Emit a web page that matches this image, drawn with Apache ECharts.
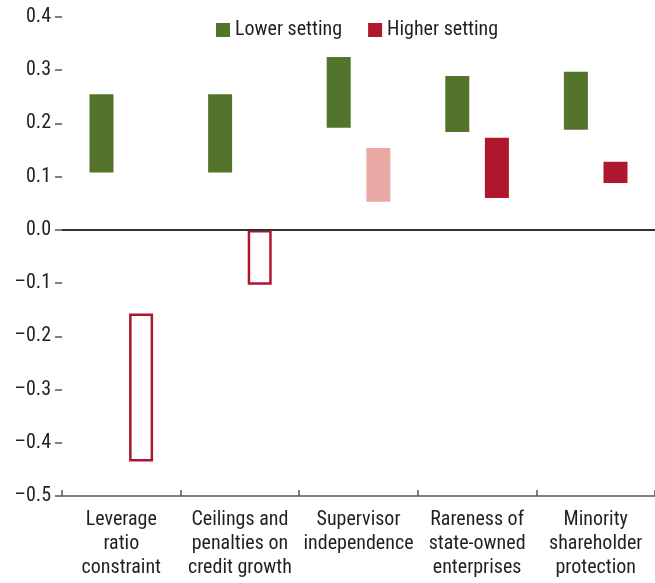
<!DOCTYPE html>
<html>
<head>
<meta charset="utf-8">
<script src="https://cdn.jsdelivr.net/npm/echarts@6/dist/echarts.min.js"></script>
<style>
html,body{margin:0;padding:0;background:#fff;}
#c{width:655px;height:583px;}
</style>
</head>
<body>
<div id="c"></div>
<script>
var categories = ["Leverage\nratio\nconstraint", "Ceilings and\npenalties on\ncredit growth", "Supervisor\nindependence", "Rareness of\nstate-owned\nenterprises", "Minority\nshareholder\nprotection"];
var lowerSettingLow  = [0.108, 0.108, 0.192, 0.184, 0.188];
var lowerSettingHigh = [0.255, 0.255, 0.325, 0.289, 0.297];
var higherSettingLow  = [-0.435, -0.103, 0.053, 0.060, 0.088];
var higherSettingHigh = [-0.157, 0.0, 0.154, 0.173, 0.128];
// style kind per higher-setting bar: solid, outline (hollow), light
var higherSettingKind = ["outline", "outline", "light", "solid", "solid"];
var yTicks = [-0.5, -0.4, -0.3, -0.2, -0.1, 0.0, 0.1, 0.2, 0.3, 0.4];

var GREEN = '#52742B', RED = '#AE172D', PINK = '#EBA9A5';
var FONT = '"Liberation Sans Narrow", "Roboto Condensed", "Arial Narrow", Roboto, sans-serif';

function baseOf(lo, hi) {
  return lo.map(function (l, i) { return hi[i] <= 0 ? hi[i] : l; });
}
function deltaOf(lo, hi) {
  return lo.map(function (l, i) { return hi[i] <= 0 ? l - hi[i] : hi[i] - l; });
}

var lowerBase = baseOf(lowerSettingLow, lowerSettingHigh);
var lowerDelta = deltaOf(lowerSettingLow, lowerSettingHigh);
var higherBase = baseOf(higherSettingLow, higherSettingHigh);
var higherDelta = deltaOf(higherSettingLow, higherSettingHigh);

var higherData = higherDelta.map(function (v, i) {
  var k = higherSettingKind[i];
  if (k === 'outline') return { value: v, itemStyle: { color: '#fff', borderColor: RED, borderWidth: 2.5 } };
  if (k === 'light') return { value: v, itemStyle: { color: PINK } };
  return { value: v, itemStyle: { color: RED } };
});

var chart = echarts.init(document.getElementById('c'), null, { renderer: 'canvas' });
chart.setOption({
  animation: false,
  backgroundColor: '#fff',
  grid: { left: 62, right: -4.5, top: 17, bottom: 87, containLabel: false },
  legend: {
    data: [
      { name: 'Lower setting', itemStyle: { color: GREEN } },
      { name: 'Higher setting', itemStyle: { color: RED } }
    ],
    top: 15, left: 211,
    itemWidth: 14, itemHeight: 14, itemGap: 26,
    icon: 'rect',
    textStyle: { fontFamily: FONT, fontSize: 20, color: '#231f20' }
  },
  xAxis: {
    type: 'category',
    data: categories,
    axisLine: { show: true, onZero: false, lineStyle: { color: '#555', width: 1.5 } },
    axisTick: { show: true, inside: true, length: 6, lineStyle: { color: '#555', width: 1.5 } },
    axisLabel: { fontFamily: FONT, fontSize: 20, color: '#231f20', lineHeight: 24, margin: 12, interval: 0 },
    splitLine: { show: false }
  },
  yAxis: {
    type: 'value',
    min: -0.5, max: 0.4, interval: 0.1,
    axisLine: { show: false },
    axisTick: { show: true, length: 7, lineStyle: { color: '#555', width: 1.5 } },
    axisLabel: {
      fontFamily: FONT, fontSize: 20, color: '#231f20', margin: 11,
      formatter: function (v) { var s = Math.abs(v).toFixed(1); return v < -1e-9 ? '\u2013' + s : s; }
    },
    splitLine: { show: false }
  },
  series: [
    { name: 'lowerBase', type: 'bar', stack: 'g', data: lowerBase, barWidth: 24, barGap: '65%',
      itemStyle: { color: 'transparent' }, silent: true },
    { name: 'Lower setting', type: 'bar', stack: 'g', data: lowerDelta, barWidth: 24, barGap: '65%',
      itemStyle: { color: GREEN } },
    { name: 'higherBase', type: 'bar', stack: 'r', data: higherBase, barWidth: 24, barGap: '65%',
      itemStyle: { color: 'transparent' }, silent: true },
    { name: 'Higher setting', type: 'bar', stack: 'r', data: higherData, barWidth: 24, barGap: '65%',
      itemStyle: { color: RED }, z: 2,
      markLine: { silent: true, symbol: 'none', label: { show: false }, z: 10,
        lineStyle: { color: '#333', width: 2, type: 'solid' }, data: [{ yAxis: 0 }] } }
  ]
});
</script>
</body>
</html>
